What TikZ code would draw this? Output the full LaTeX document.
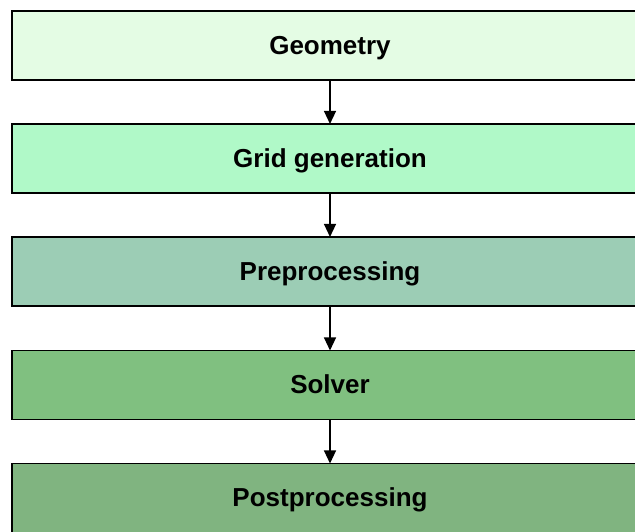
\documentclass[tikz,border=0pt]{standalone}
\usepackage{fontspec}
\setmainfont{Liberation Sans}
\usetikzlibrary{arrows.meta}
\definecolor{cgeo}{HTML}{E4FCE4}
\definecolor{cgrid}{HTML}{B0F9C8}
\definecolor{cpre}{HTML}{9CCDB5}
\definecolor{csol}{HTML}{80C080}
\definecolor{cpost}{HTML}{80B480}
\tikzset{
  stagebox/.style={draw=black, line width=1.3pt, minimum width=636pt, minimum height=69pt,
    inner sep=0pt, text height=17.5pt, text depth=0pt,
    font=\fontsize{26pt}{30pt}\selectfont\bfseries},
  flowarrow/.style={draw=black, line width=1.3pt, -{Triangle[width=12pt,length=13pt]}, shorten >=-0.6pt, shorten <=-0.6pt}
}
\begin{document}
\begin{tikzpicture}[x=1pt,y=-1pt]
\useasboundingbox (0,0) rectangle (635,531);
\node[stagebox, fill=cgeo]  (geo)  at (330,45.5)  {Geometry};
\node[stagebox, fill=cgrid] (grid) at (330,158.5) {Grid generation};
\node[stagebox, fill=cpre]  (pre)  at (330,271.5) {Preprocessing};
\node[stagebox, fill=csol]  (sol)  at (330,385)   {Solver};
\node[stagebox, fill=cpost] (post) at (330,498)   {Postprocessing};
\draw[flowarrow] (geo.south)  -- (grid.north);
\draw[flowarrow] (grid.south) -- (pre.north);
\draw[flowarrow] (pre.south)  -- (sol.north);
\draw[flowarrow] (sol.south)  -- (post.north);
\end{tikzpicture}
\end{document}
